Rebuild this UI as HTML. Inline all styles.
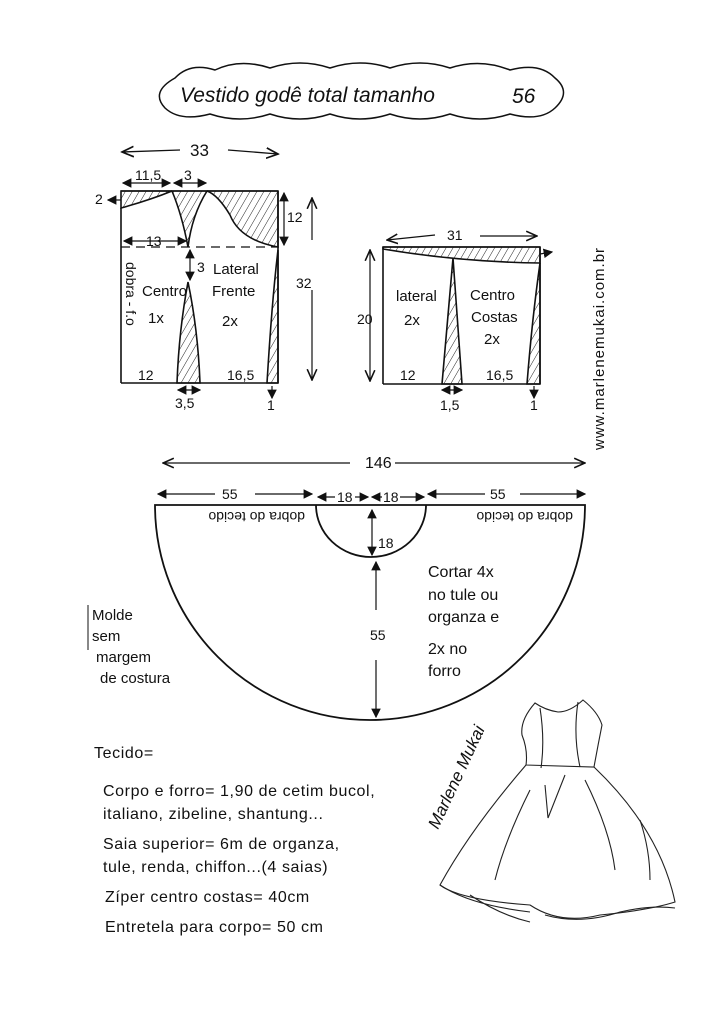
<!DOCTYPE html>
<html><head><meta charset="utf-8"><style>
html,body{margin:0;padding:0;background:#fff;}
svg{display:block}
text{font-family:"Liberation Sans",sans-serif;fill:#111;}
</style></head><body>
<svg width="724" height="1024" viewBox="0 0 724 1024" xmlns="http://www.w3.org/2000/svg">
<defs>
<pattern id="h" width="6" height="6" patternUnits="userSpaceOnUse" patternTransform="rotate(30)">
<line x1="0" y1="0" x2="0" y2="6" stroke="#222" stroke-width="1"/></pattern>
<marker id="a" markerWidth="10" markerHeight="10" refX="9" refY="5" orient="auto-start-reverse"><path d="M0,1 L9,5 L0,9" fill="none" stroke="#111" stroke-width="1.3"/></marker>
<marker id="f" markerWidth="8" markerHeight="8" refX="7" refY="4" orient="auto-start-reverse"><path d="M0,0 L8,4 L0,8Z" fill="#111"/></marker>
</defs>
<rect width="724" height="1024" fill="#fff"/>
<g fill="none" stroke="#111" stroke-width="1.5">
<path d="M175,78 Q190,62 215,70 Q240,58 270,68 Q300,58 330,68 Q360,58 390,68 Q420,58 450,68 Q480,58 510,70 Q540,62 555,78 Q572,92 555,108 Q540,122 510,114 Q480,124 450,114 Q420,124 390,114 Q360,124 330,114 Q300,124 270,114 Q240,124 210,114 Q180,122 165,108 Q150,92 175,78Z"/>
</g>
<text x="180" y="102" font-size="21" font-style="italic">Vestido godê total tamanho</text>
<text x="512" y="103" font-size="21" font-style="italic">56</text>

<line x1="122" y1="152" x2="180" y2="150" stroke="#111" stroke-width="1.3" marker-start="url(#a)"/>
<line x1="228" y1="150" x2="278" y2="154" stroke="#111" stroke-width="1.3" marker-end="url(#a)"/>
<text x="190" y="156" font-size="17">33</text>

<g stroke="#111" stroke-width="1.6" fill="url(#h)">
<path d="M121,191 L172,191 Q150,200 121,208Z"/>
<path d="M172,191 L207,191 Q192,215 188,247 Q182,215 172,191Z"/>
<path d="M207,191 L278,191 L278,247 Q240,240 230,215 Q218,195 207,191Z"/>
<path d="M188,282 Q198,330 200,383 L177,383 Q179,330 188,282Z"/>
<path d="M278,250 L278,383 L267,383 Q272,300 278,250Z"/>
</g>
<g stroke="#111" stroke-width="1.6" fill="none">
<line x1="121" y1="191" x2="278" y2="191"/>
<line x1="121" y1="208" x2="121" y2="383"/>
<line x1="121" y1="383" x2="278" y2="383"/>
<line x1="278" y1="191" x2="278" y2="383"/>
<line x1="121" y1="247" x2="278" y2="247" stroke-dasharray="9,6" stroke-width="1.2"/>
</g>
<g stroke="#111" stroke-width="1.2" fill="none">
<line x1="123" y1="183" x2="170" y2="183" marker-start="url(#f)" marker-end="url(#f)"/>
<line x1="174" y1="183" x2="206" y2="183" marker-start="url(#f)" marker-end="url(#f)"/>
<line x1="121" y1="200" x2="108" y2="200" marker-end="url(#f)"/>
<line x1="124" y1="241" x2="186" y2="241" marker-start="url(#f)" marker-end="url(#f)"/>
<line x1="190" y1="250" x2="190" y2="280" marker-start="url(#f)" marker-end="url(#f)"/>
<line x1="284" y1="193" x2="284" y2="245" marker-start="url(#f)" marker-end="url(#f)"/>
<line x1="312" y1="198" x2="312" y2="240" marker-start="url(#a)"/>
<line x1="312" y1="290" x2="312" y2="380" marker-end="url(#a)"/>
<line x1="178" y1="390" x2="200" y2="390" marker-start="url(#f)" marker-end="url(#f)"/>
<line x1="272" y1="386" x2="272" y2="398" marker-end="url(#f)"/>
</g>
<g font-size="14">
<text x="135" y="180">11,5</text><text x="184" y="180">3</text>
<text x="95" y="204">2</text><text x="146" y="246">13</text>
<text x="197" y="272">3</text><text x="287" y="222">12</text>
<text x="296" y="288">32</text>
<text x="138" y="380">12</text><text x="227" y="380">16,5</text>
<text x="175" y="408">3,5</text><text x="267" y="410">1</text>
<text x="142" y="296" font-size="15">Centro</text><text x="148" y="323" font-size="15">1x</text>
<text x="213" y="274" font-size="15">Lateral</text><text x="212" y="296" font-size="15">Frente</text>
<text x="222" y="326" font-size="15">2x</text>
<text transform="translate(126,262) rotate(90)" font-size="14">dobra - f.o</text>
</g>

<g stroke="#111" stroke-width="1.6" fill="url(#h)">
<path d="M383,247 L540,247 L540,263 Q460,262 383,249Z"/>
<path d="M453,258 L462,384 L442,384Z"/>
<path d="M540,263 L540,384 L527,384 Q532,320 540,263Z"/>
</g>
<g stroke="#111" stroke-width="1.6" fill="none">
<line x1="383" y1="247" x2="540" y2="247"/>
<line x1="383" y1="247" x2="383" y2="384"/>
<line x1="383" y1="384" x2="540" y2="384"/>
<line x1="540" y1="247" x2="540" y2="384"/>
</g>
<g stroke="#111" stroke-width="1.2" fill="none">
<line x1="387" y1="240" x2="435" y2="235" marker-start="url(#a)"/>
<line x1="480" y1="236" x2="537" y2="236" marker-end="url(#a)"/>
<line x1="370" y1="250" x2="370" y2="381" marker-start="url(#a)" marker-end="url(#a)"/>
<line x1="540" y1="254" x2="552" y2="252" marker-end="url(#f)"/>
<line x1="442" y1="390" x2="462" y2="390" marker-start="url(#f)" marker-end="url(#f)"/>
<line x1="534" y1="386" x2="534" y2="398" marker-end="url(#f)"/>
</g>
<g font-size="14">
<text x="447" y="240">31</text><text x="357" y="324">20</text>
<text x="400" y="380">12</text><text x="486" y="380">16,5</text>
<text x="440" y="410">1,5</text><text x="530" y="410">1</text>
<text x="396" y="301" font-size="15">lateral</text><text x="404" y="325" font-size="15">2x</text>
<text x="470" y="300" font-size="15">Centro</text><text x="471" y="322" font-size="15">Costas</text><text x="484" y="344" font-size="15">2x</text>
</g>
<text transform="translate(604,450) rotate(-90)" font-size="15" letter-spacing="1">www.marlenemukai.com.br</text>

<g stroke="#111" stroke-width="1.2" fill="none">
<line x1="163" y1="463" x2="350" y2="463" marker-start="url(#a)"/>
<line x1="395" y1="463" x2="585" y2="463" marker-end="url(#a)"/>
<line x1="158" y1="494" x2="215" y2="494" marker-start="url(#f)"/>
<line x1="255" y1="494" x2="312" y2="494" marker-end="url(#f)"/>
<line x1="318" y1="497" x2="335" y2="497" marker-start="url(#f)"/>
<line x1="355" y1="497" x2="368" y2="497" marker-end="url(#f)"/>
<line x1="372" y1="497" x2="382" y2="497" marker-start="url(#f)"/>
<line x1="400" y1="497" x2="424" y2="497" marker-end="url(#f)"/>
<line x1="428" y1="494" x2="485" y2="494" marker-start="url(#f)"/>
<line x1="520" y1="494" x2="585" y2="494" marker-end="url(#f)"/>
<line x1="372" y1="510" x2="372" y2="555" marker-start="url(#f)" marker-end="url(#f)"/>
<line x1="376" y1="562" x2="376" y2="610" marker-start="url(#f)"/>
<line x1="376" y1="660" x2="376" y2="717" marker-end="url(#f)"/>
</g>
<g stroke="#111" stroke-width="1.8" fill="none">
<path d="M155,505 L585,505 A215,215 0 0 1 155,505Z"/>
<path d="M316,505 A55,52 0 0 0 426,505"/>
</g>
<g font-size="14">
<text x="365" y="468" font-size="16">146</text>
<text x="222" y="499">55</text><text x="337" y="502">18</text><text x="383" y="502">18</text>
<text x="490" y="499">55</text>
<text x="378" y="548">18</text><text x="370" y="640">55</text>
<text transform="translate(305,512) rotate(180)" font-size="14">dobra do tecido</text>
<text transform="translate(573,512) rotate(180)" font-size="14">dobra do tecido</text>
<text x="428" y="577" font-size="16">Cortar 4x</text>
<text x="428" y="600" font-size="16">no tule ou</text>
<text x="428" y="622" font-size="16">organza e</text>
<text x="428" y="654" font-size="16">2x no</text>
<text x="428" y="676" font-size="16">forro</text>
<text x="92" y="620" font-size="15">Molde</text>
<text x="92" y="641" font-size="15">sem</text>
<text x="96" y="662" font-size="15">margem</text>
<text x="100" y="683" font-size="15">de costura</text>
</g>
<path d="M88,605 L88,650" stroke="#111" stroke-width="1"/>

<g font-size="16" letter-spacing="0.6">
<text x="94" y="758">Tecido=</text>
<text x="103" y="796">Corpo e forro= 1,90  de cetim bucol,</text>
<text x="103" y="819">italiano, zibeline, shantung...</text>
<text x="103" y="849">Saia superior= 6m  de organza,</text>
<text x="103" y="872">tule, renda, chiffon...(4 saias)</text>
<text x="105" y="902">Zíper centro costas= 40cm</text>
<text x="105" y="932">Entretela para corpo= 50 cm</text>
</g>

<g stroke="#222" stroke-width="1.1" fill="none">
<path d="M535,703 Q520,720 522,735 Q528,750 526,765 L594,767 Q598,745 602,725 Q598,712 583,700 Q570,712 558,712 Q545,710 535,703Z"/>
<path d="M540,708 Q545,740 541,768 M578,702 Q573,735 580,767"/>
<path d="M526,765 Q470,830 440,885 Q460,900 530,905 Q560,925 600,915 Q650,910 675,902 Q660,830 594,767"/>
<path d="M530,790 Q505,840 495,880 M545,785 L548,818 L565,775 M585,780 Q610,830 615,870 M640,820 Q650,850 650,880"/>
<path d="M440,885 Q470,905 530,912 M470,895 Q500,915 530,922 M545,915 Q580,925 620,912 Q650,905 675,908"/>
</g>
<text transform="translate(438,830) rotate(-65)" font-size="17" font-style="italic" fill="#222">Marlene Mukai</text>
</svg>
</body></html>
